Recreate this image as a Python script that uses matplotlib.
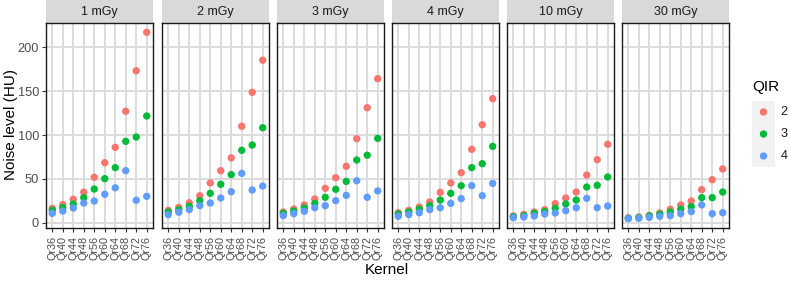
"""
Noise level vs reconstruction kernel, faceted by dose (ggplot-style look).
"""

import matplotlib
matplotlib.use("Agg")
import matplotlib.pyplot as plt
from matplotlib.patches import Rectangle

plt.rcParams["font.family"] = ["Liberation Sans", "DejaVu Sans"]

# ── data ──────────────────────────────────────────────────────────────────────
kernels = ["Qr36", "Qr40", "Qr44", "Qr48", "Qr56",
           "Qr60", "Qr64", "Qr68", "Qr72", "Qr76"]
doses = ["1 mGy", "2 mGy", "3 mGy", "4 mGy", "10 mGy", "30 mGy"]
qir_levels = ["2", "3", "4"]

# one row per dose, one value per kernel
noise_qir2 = [
    [16.7, 21.0, 27.0, 35.0, 52.0, 68.5, 86.0, 127.0, 173.0, 216.7],
    [14.4, 17.8, 23.0, 31.0, 45.5, 59.5, 74.0, 110.0, 148.5, 185.0],
    [12.5, 15.9, 20.5, 27.3, 39.4, 51.5, 64.4, 95.8, 131.0, 164.0],
    [11.7, 14.4, 18.2, 23.9, 34.8, 45.5, 57.2, 83.7, 111.7, 141.3],
    [8.0, 9.8, 12.5, 15.2, 22.0, 28.4, 35.2, 54.5, 72.0, 89.4],
    [6.0, 6.8, 8.7, 11.4, 15.6, 20.5, 25.0, 37.9, 49.2, 61.4],
]
noise_qir3 = [
    [14.4, 17.4, 21.6, 28.8, 38.6, 50.4, 62.9, 92.8, 97.7, 121.6],
    [12.5, 15.0, 19.0, 25.4, 33.7, 44.0, 55.0, 82.6, 88.6, 108.3],
    [11.0, 13.6, 17.0, 22.3, 29.2, 38.3, 47.3, 71.6, 77.0, 96.2],
    [10.2, 12.5, 15.6, 19.7, 26.1, 33.7, 42.4, 62.9, 67.4, 87.1],
    [7.2, 8.3, 11.0, 12.9, 16.7, 21.6, 26.1, 40.9, 42.8, 52.3],
    [5.3, 6.0, 8.0, 9.9, 12.5, 15.6, 18.6, 28.8, 28.8, 35.2],
]
noise_qir4 = [
    [11.0, 13.6, 17.0, 22.7, 25.0, 32.6, 40.0, 59.5, 25.8, 30.3],
    [9.5, 12.2, 15.2, 19.7, 22.7, 28.4, 35.6, 56.4, 37.5, 42.0],
    [8.3, 10.6, 13.3, 17.4, 19.7, 25.4, 31.4, 48.0, 29.2, 36.4],
    [7.6, 9.5, 11.7, 15.2, 17.4, 22.3, 27.7, 42.4, 31.0, 45.0],
    [6.0, 6.8, 8.0, 10.2, 11.4, 14.0, 17.4, 28.0, 17.4, 19.3],
    [4.9, 5.3, 6.4, 7.6, 8.3, 10.6, 12.9, 20.5, 10.6, 11.7],
]

series = [noise_qir2, noise_qir3, noise_qir4]
colors = ["#F8766D", "#00BA38", "#619CFF"]

# ── layout (pixel based) ──────────────────────────────────────────────────────
W, H = 790, 283
fig = plt.figure(figsize=(W / 100, H / 100), dpi=100)
fig.patch.set_facecolor("white")

P_LEFTS = [46, 162, 277, 392, 507, 622]
P_W = 107
P_TOP, P_BOT = 23, 228
STRIP_H = 23

allv = [v for s in series for row in s for v in row]
lo, hi = min(allv), max(allv)
pad = (hi - lo) * 0.05
YLIM = (lo - pad, hi + pad)

GRID = "#DCDCDC"
TXT = "#4D4D4D"

for i, dose in enumerate(doses):
    ax = fig.add_axes([P_LEFTS[i] / W, 1 - P_BOT / H, P_W / W, (P_BOT - P_TOP) / H])
    ax.set_facecolor("white")
    ax.set_xlim(-0.6, len(kernels) - 0.4)
    ax.set_ylim(*YLIM)
    ax.set_xticks(range(len(kernels)))
    ax.set_xticklabels(kernels, rotation=90, fontsize=7.8, color=TXT)
    ax.set_yticks([0, 50, 100, 150, 200])
    ax.grid(True, color=GRID, lw=1.4, zorder=0)
    ax.set_axisbelow(True)
    for sp in ax.spines.values():
        sp.set_color("#1A1A1A")
        sp.set_linewidth(1.0)
    ax.tick_params(axis="x", length=3.0, width=0.8, color="#333333", pad=3)
    if i == 0:
        ax.tick_params(axis="y", length=3.0, width=0.8, color="#333333",
                       labelsize=9.2, labelcolor=TXT, pad=2)
    else:
        ax.tick_params(axis="y", length=0, labelleft=False)

    for s, c in zip(series, colors):
        ax.scatter(range(len(kernels)), s[i], s=28, color=c,
                   edgecolors="none", zorder=3)

    # strip
    sh = STRIP_H / (P_BOT - P_TOP)
    ax.add_patch(Rectangle((0, 1.0), 1, sh, transform=ax.transAxes,
                           facecolor="#D9D9D9", edgecolor="none",
                           clip_on=False, zorder=1))
    ax.text(0.5, 1 + sh / 2, dose, transform=ax.transAxes, ha="center",
            va="center", fontsize=9.0, color="#1A1A1A")

# axis titles
fig.text(11 / W, 1 - 125 / H, "Noise level (HU)", rotation=90,
         ha="center", va="center", fontsize=11)
fig.text(387 / W, 1 - 270 / H, "Kernel", ha="center", va="center", fontsize=11)

# legend
fig.text(752 / W, 1 - 87 / H, "QIR", ha="left", va="center", fontsize=11)
lax = fig.add_axes([752 / W, 1 - 167 / H, 23 / W, 66 / H])
lax.set_facecolor("#F2F2F2")
lax.set_xlim(0, 1)
lax.set_ylim(0, 3)
lax.set_xticks([])
lax.set_yticks([])
for sp in lax.spines.values():
    sp.set_visible(False)
for k, (lab, c) in enumerate(zip(qir_levels, colors)):
    yk = 2.5 - k
    lax.scatter([0.5], [yk], s=28, color=c, edgecolors="none")
    lax.text(1.25, yk, lab, transform=lax.transData, ha="left", va="center",
             fontsize=9.2, color="#1A1A1A", clip_on=False)

fig.savefig("out.png", dpi=100, facecolor="white")
plt.close()
